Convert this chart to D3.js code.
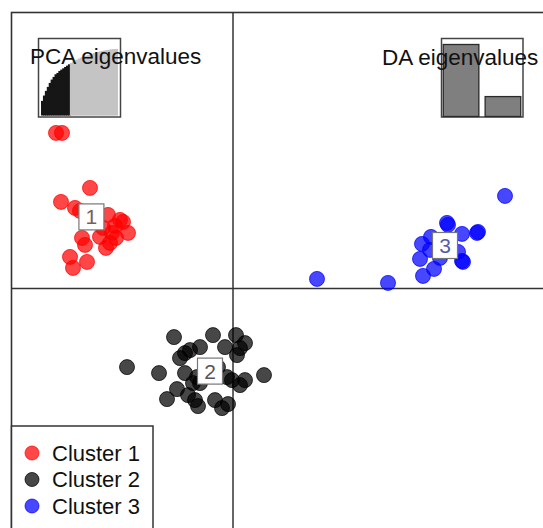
<!DOCTYPE html>
<html>
<head>
<meta charset="utf-8">
<script src="https://cdn.jsdelivr.net/npm/d3@7"></script>
<style>
  html, body { margin: 0; padding: 0; background: #fff; }
  svg { display: block; font-family: "Liberation Sans", Arial, Helvetica, sans-serif; }
</style>
</head>
<body>
<svg id="chart" width="543" height="528"></svg>
<script>
// Discriminant functions (LD1, LD2) of each individual, by cluster
const cluster1 = [
  [-8.85, 7.78], [-8.55, 7.78], [-7.15, 5.03], [-8.6, 4.33], [-7.9, 4.03],
  [-7.65, 3.88], [-6.25, 3.68], [-5.65, 3.43], [-5.5, 3.33], [-5.9, 3.13],
  [-5.25, 2.78], [-6.05, 2.78], [-6.5, 3.03], [-7.55, 2.53], [-7.4, 2.18],
  [-6.35, 2.03], [-6.15, 2.28], [-5.85, 2.53], [-8.15, 1.58], [-8.0, 1.03],
  [-7.3, 1.33], [-6.65, 2.58]
];
const cluster2 = [
  [-5.3, -3.93], [-3.7, -4.23], [-2.95, -2.43], [-2.4, -3.23], [-2.15, -3.08],
  [-2.4, -4.23], [-1.65, -2.93], [-1.0, -2.33], [-0.4, -2.93], [0.15, -2.33],
  [0.6, -2.73], [0.2, -3.33], [-0.05, -4.58], [0.35, -4.83], [0.6, -4.58],
  [1.55, -4.33], [-0.3, -4.43], [-2.8, -5.03], [-3.3, -5.53], [-2.25, -5.33],
  [-1.75, -5.88], [-0.9, -5.58], [-0.55, -5.98], [-0.25, -5.78], [-1.9, -5.58],
  [-2.0, -4.73], [-1.65, -4.73], [-1.8, -4.43], [-0.75, -3.93], [-2.65, -3.48],
  [0.35, -2.98]
];
const cluster3 = [
  [13.6, 4.63], [4.2, 0.48], [7.75, 0.28], [10.7, 3.28], [10.75, 3.18],
  [12.2, 2.78], [12.25, 2.83], [11.45, 2.73], [9.45, 2.23], [9.9, 2.58],
  [11.25, 1.83], [11.45, 1.38], [11.5, 1.33], [9.35, 1.48], [10.35, 1.53],
  [10.05, 0.98], [9.5, 0.63], [9.85, 1.93]
];
const clusterNames = ["Cluster 1", "Cluster 2", "Cluster 3"];
const clusterLabels = ["1", "2", "3"];
const clusterCentres = [[-7.08, 3.58], [-1.15, -4.13], [10.6, 2.15]];
const clusterColors = ["#ff0000", "#000000", "#0000ff"];
const labelColors = ["#7a5e5e", "#555555", "#5a5aa6"];

// Cumulative variance (%) of the PCA axes; first ones were retained
const pcaEigen = [
  22, 30, 37, 43, 49, 54, 58, 62, 64, 67, 69, 71, 73, 75, 77,
  79, 81, 82.5, 84, 85.5, 87, 88, 89, 90, 91, 92, 93, 94, 94.8, 95.6,
  96.3, 97, 97.6, 98.1, 98.6, 99, 99.4, 99.7, 99.9, 100
];
const pcaRetained = 15;
// Eigenvalues of the discriminant functions
const daEigen = [300, 83];

const svg = d3.select("#chart");

const x = d3.scaleLinear().domain([-11.1, 15.5]).range([11, 543]);
const y = d3.scaleLinear().domain([-12, 13.8]).range([528.5, 12.5]);

const frameColor = "#333";

// Plot frame (extends beyond the visible area on the right and bottom)
svg.append("rect")
  .attr("x", x(-11.1) + 0.5).attr("y", y(13.8))
  .attr("width", 600).attr("height", 600)
  .attr("fill", "none").attr("stroke", frameColor).attr("stroke-width", 1.6);

// Zero axes
svg.append("line")
  .attr("x1", x(-11.1)).attr("x2", 543)
  .attr("y1", y(0)).attr("y2", y(0))
  .attr("stroke", frameColor).attr("stroke-width", 1.5);
svg.append("line")
  .attr("x1", x(0)).attr("x2", x(0))
  .attr("y1", y(13.8)).attr("y2", 528)
  .attr("stroke", frameColor).attr("stroke-width", 1.5);

// Individuals
const clusters = [cluster1, cluster2, cluster3];
const pts = [];
const maxLen = d3.max(clusters, c => c.length);
for (let i = 0; i < maxLen; i++) {
  clusters.forEach((c, k) => { if (i < c.length) pts.push({ k, v: c[i] }); });
}
svg.append("g").selectAll("circle").data(pts).join("circle")
  .attr("cx", d => x(d.v[0]))
  .attr("cy", d => y(d.v[1]))
  .attr("r", 7.5)
  .attr("fill", d => clusterColors[d.k])
  .attr("fill-opacity", 0.72)
  .attr("stroke", d => clusterColors[d.k])
  .attr("stroke-opacity", 0.72)
  .attr("stroke-width", 1);

// Cluster labels
const lab = svg.append("g").selectAll("g").data(clusterCentres).join("g")
  .attr("transform", d => `translate(${x(d[0])},${y(d[1])})`);
lab.append("rect")
  .attr("x", -12.5).attr("y", -13).attr("width", 25).attr("height", 26)
  .attr("fill", "#fff").attr("stroke", "#777").attr("stroke-width", 1.2);
lab.append("text")
  .attr("text-anchor", "middle").attr("dy", "0.36em")
  .attr("font-size", 21)
  .attr("fill", (d, i) => labelColors[i])
  .text((d, i) => clusterLabels[i]);

// PCA eigenvalues inset
const pcaG = svg.append("g");
pcaG.append("rect")
  .attr("x", 38.5).attr("y", 38.5).attr("width", 82).attr("height", 78.5)
  .attr("fill", "#fff").attr("stroke", "#444").attr("stroke-width", 1.5);
const px = d3.scaleBand().domain(d3.range(pcaEigen.length)).range([41, 118]).padding(0);
const py = d3.scaleLinear().domain([0, 100]).range([115.5, 49]);
pcaG.selectAll("rect.bar").data(pcaEigen).join("rect")
  .attr("class", "bar")
  .attr("x", (d, i) => px(i))
  .attr("y", d => py(d))
  .attr("width", (d, i) => i === pcaEigen.length - 1 ? px.bandwidth() : px.bandwidth() + 1.2)
  .attr("height", d => py(0) - py(d))
  .attr("fill", (d, i) => i < pcaRetained ? "#161616" : "#c4c4c4");
pcaG.append("text")
  .attr("x", 30).attr("y", 64)
  .attr("font-size", 22.5).attr("fill", "#111")
  .text("PCA eigenvalues");

// DA eigenvalues inset
const daG = svg.append("g");
daG.append("rect")
  .attr("x", 441.5).attr("y", 38.5).attr("width", 81.5).attr("height", 78.5)
  .attr("fill", "#fff").attr("stroke", "#444").attr("stroke-width", 1.5);
const dx = d3.scaleBand().domain(d3.range(daEigen.length)).range([442, 522])
  .paddingInner(0.15).paddingOuter(0.03);
const dy = d3.scaleLinear().domain([0, 300]).range([116.5, 44.5]);
daG.selectAll("rect.bar").data(daEigen).join("rect")
  .attr("class", "bar")
  .attr("x", (d, i) => dx(i))
  .attr("y", d => dy(d))
  .attr("width", dx.bandwidth())
  .attr("height", d => dy(0) - dy(d))
  .attr("fill", "#7f7f7f").attr("stroke", "#2a2a2a").attr("stroke-width", 1.3);
daG.append("text")
  .attr("x", 382).attr("y", 65)
  .attr("font-size", 22.5).attr("fill", "#111")
  .text("DA eigenvalues");

// Legend
const legG = svg.append("g");
legG.append("rect")
  .attr("x", 11.5).attr("y", 426).attr("width", 141.5).attr("height", 140)
  .attr("fill", "#fff").attr("stroke", frameColor).attr("stroke-width", 1.5);
const items = legG.selectAll("g.item").data(clusterNames).join("g")
  .attr("class", "item")
  .attr("transform", (d, i) => `translate(0,${453 + i * 26.5})`);
items.append("circle")
  .attr("cx", 32).attr("cy", 0).attr("r", 7)
  .attr("fill", (d, i) => clusterColors[i]).attr("fill-opacity", 0.72)
  .attr("stroke", (d, i) => clusterColors[i]).attr("stroke-opacity", 0.72);
items.append("text")
  .attr("x", 52).attr("dy", "0.36em")
  .attr("font-size", 22).attr("fill", "#111")
  .text(d => d);
</script>
</body>
</html>
